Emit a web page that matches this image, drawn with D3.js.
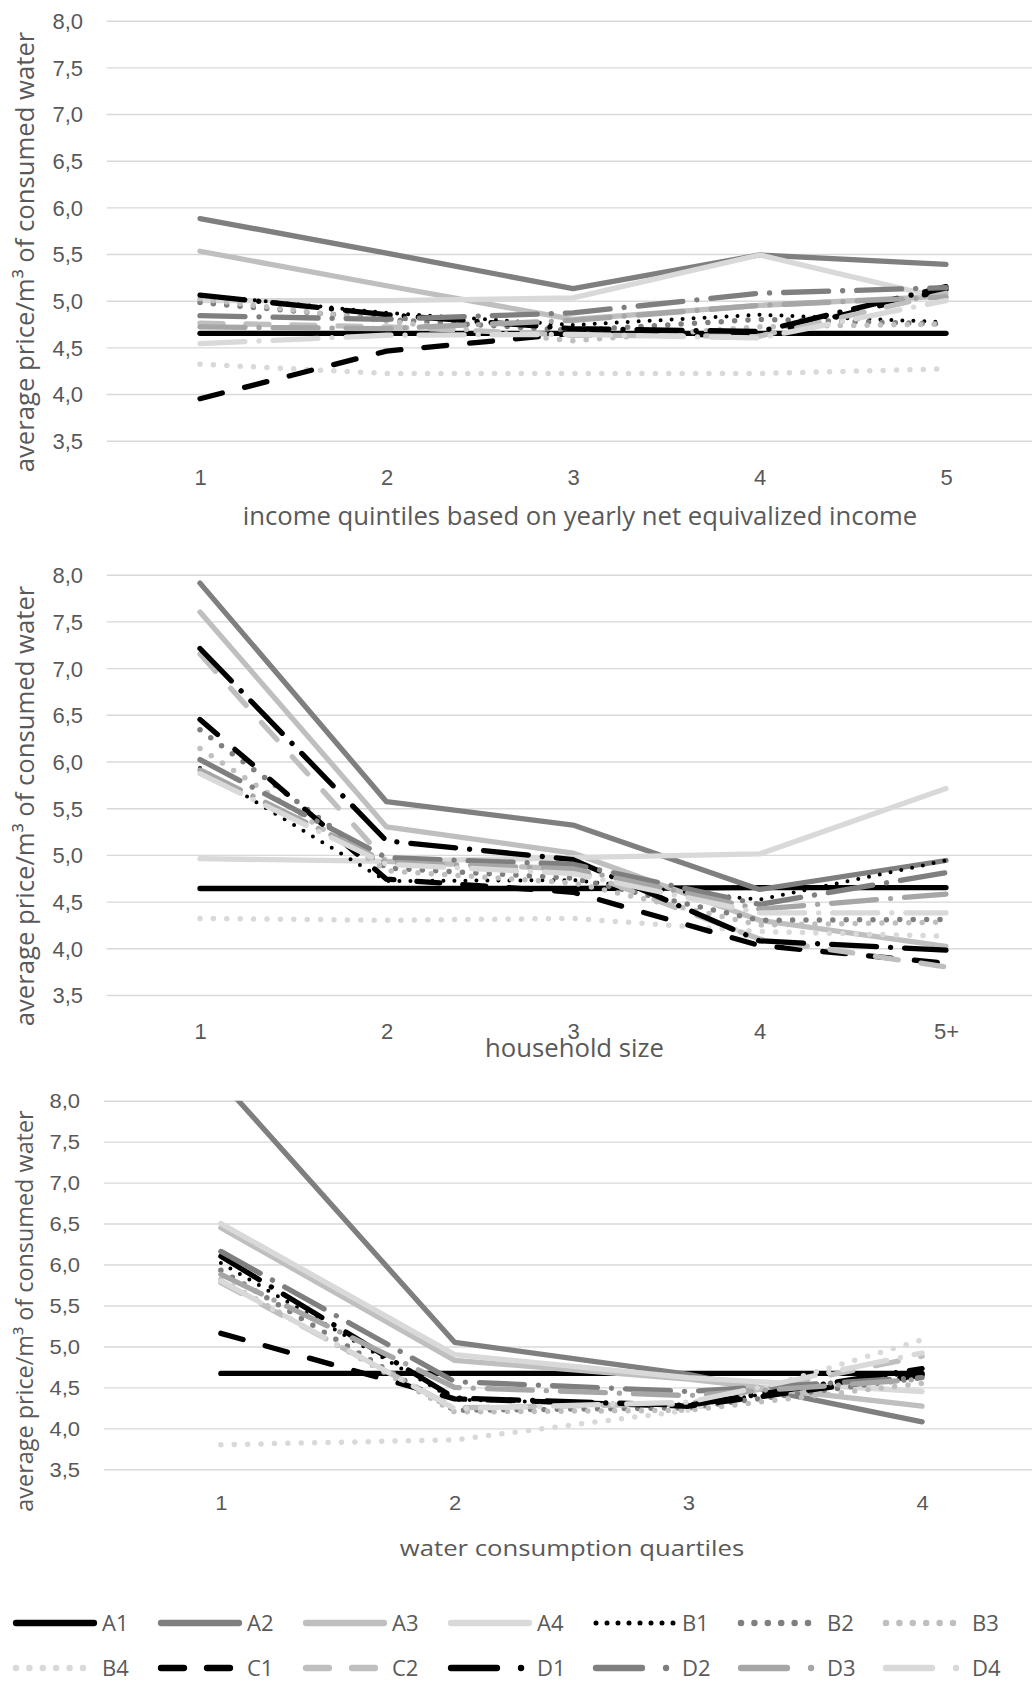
<!DOCTYPE html>
<html>
<head>
<meta charset="utf-8">
<script src="https://cdn.jsdelivr.net/npm/d3@7"></script>
<style>
  body { margin: 0; background: #ffffff; }
  svg { display: block; font-family: "Open Sans", "Noto Sans", sans-serif; }
</style>
</head>
<body>
<svg id="chart" width="1032" height="1683"></svg>
<script>
// Tariff scenarios, drawn in this order (later series on top)
const seriesNames = ["A1","A2","A3","A4","B1","B2","B3","B4","C1","C2","D1","D2","D3","D4"];

// Category labels of the three breakdowns
const incomeQuintiles = ["1","2","3","4","5"];
const householdSizes = ["1","2","3","4","5+"];
const consumptionQuartiles = ["1","2","3","4"];

// Shared price axis
const priceTicks = [3.5, 4.0, 4.5, 5.0, 5.5, 6.0, 6.5, 7.0, 7.5, 8.0];

// Average price per m³ by income quintile
const priceByIncome = {
  A1: [4.65, 4.65, 4.65, 4.65, 4.65],
  A2: [5.88, 5.51, 5.13, 5.49, 5.39],
  A3: [5.53, 5.16, 4.80, 4.95, 5.05],
  A4: [5.00, 5.00, 5.03, 5.49, 5.02],
  B1: [5.06, 4.87, 4.74, 4.85, 4.77],
  B2: [4.98, 4.80, 4.68, 4.80, 4.75],
  B3: [5.02, 4.78, 4.57, 4.72, 4.75],
  B4: [4.32, 4.22, 4.22, 4.22, 4.27],
  C1: [3.95, 4.46, 4.65, 4.63, 5.12],
  C2: [4.76, 4.72, 4.63, 4.62, 5.08],
  D1: [5.06, 4.85, 4.70, 4.67, 5.15],
  D2: [4.84, 4.80, 4.87, 5.08, 5.14],
  D3: [4.72, 4.70, 4.79, 4.95, 5.04],
  D4: [4.54, 4.63, 4.64, 4.60, 5.00]
};

// Average price per m³ by household size
const priceByHousehold = {
  A1: [4.64, 4.64, 4.64, 4.65, 4.65],
  A2: [7.91, 5.57, 5.32, 4.63, 4.94],
  A3: [7.60, 5.30, 5.02, 4.30, 4.02],
  A4: [4.96, 4.93, 4.97, 5.01, 5.71],
  B1: [5.93, 4.72, 4.73, 4.52, 4.94],
  B2: [6.34, 4.86, 4.75, 4.30, 4.31],
  B3: [6.14, 4.83, 4.70, 4.25, 4.28],
  B4: [4.32, 4.30, 4.32, 4.18, 4.13],
  C1: [6.45, 4.74, 4.60, 4.03, 3.84],
  C2: [7.15, 4.93, 4.85, 4.10, 3.80],
  D1: [7.21, 5.15, 4.95, 4.08, 3.98],
  D2: [6.02, 4.97, 4.90, 4.47, 4.81],
  D3: [5.91, 4.92, 4.85, 4.42, 4.58],
  D4: [5.87, 4.90, 4.80, 4.38, 4.38]
};

// Average price per m³ by water consumption quartile
const priceByConsumption = {
  A1: [4.67, 4.67, 4.67, 4.67],
  A2: [8.24, 5.05, 4.66, 4.08],
  A3: [6.45, 4.83, 4.60, 4.27],
  A4: [6.50, 4.90, 4.62, 4.45],
  B1: [6.02, 4.35, 4.28, 4.70],
  B2: [5.93, 4.22, 4.25, 4.62],
  B3: [5.82, 4.20, 4.22, 4.55],
  B4: [3.80, 3.86, 4.22, 5.08],
  C1: [5.16, 4.36, 4.27, 4.65],
  C2: [5.78, 4.25, 4.30, 4.88],
  D1: [6.10, 4.37, 4.28, 4.73],
  D2: [6.16, 4.57, 4.45, 4.62],
  D3: [5.88, 4.50, 4.40, 4.60],
  D4: [5.80, 4.24, 4.32, 4.92]
};

// ---- presentation ----
const BLACK = "#000000", DARK = "#7f7f7f", MID = "#a6a6a6", LIGHT = "#bfbfbf", PALE = "#d9d9d9";
const TEXT = "#595959", GRID = "#d9d9d9";
const FINE_DOT = "0 11", DOT = "0 13.4", DASH = "23 23", LONG_DASH_DOT = "45 14 0.1 14";
const LEGEND_LONG_DASH_DOT = "46 24 0.1 300";

const seriesStyle = {
  A1: { color: BLACK, width: 5.3, dash: null },
  A2: { color: DARK,  width: 5.3, dash: null },
  A3: { color: LIGHT, width: 5.3, dash: null },
  A4: { color: PALE,  width: 5.3, dash: null },
  B1: { color: BLACK, width: 4,   dash: FINE_DOT },
  B2: { color: DARK,  width: 5.5, dash: DOT },
  B3: { color: LIGHT, width: 5.5, dash: DOT },
  B4: { color: PALE,  width: 5.5, dash: DOT },
  C1: { color: BLACK, width: 5.3, dash: DASH },
  C2: { color: LIGHT, width: 5.3, dash: DASH },
  D1: { color: BLACK, width: 5.3, dash: LONG_DASH_DOT, legendDash: LEGEND_LONG_DASH_DOT },
  D2: { color: DARK,  width: 5.3, dash: LONG_DASH_DOT, legendDash: LEGEND_LONG_DASH_DOT },
  D3: { color: MID,   width: 5.3, dash: LONG_DASH_DOT, legendDash: LEGEND_LONG_DASH_DOT },
  D4: { color: PALE,  width: 5.3, dash: LONG_DASH_DOT, legendDash: LEGEND_LONG_DASH_DOT }
};

const yTitleText = "average price/m³ of consumed water";

const panels = [
  { id: "income", categories: incomeQuintiles, prices: priceByIncome,
    title: "income quintiles based on yearly net equivalized income",
    x0: 106.75, x1: 1039.25, yTop: 20.7, yBottom: 440.7,
    tickRight: 83, xTickY: 477, xTitleX: 580, xTitleY: 515.5,
    yTitleX: 34, yTitleY: 252, yTitleSize: 25.7, squash: 1 },
  { id: "household", categories: householdSizes, prices: priceByHousehold,
    title: "household size",
    x0: 106.75, x1: 1039.25, yTop: 574.7, yBottom: 995,
    tickRight: 83, xTickY: 1031, xTitleX: 574.5, xTitleY: 1048,
    yTitleX: 34, yTitleY: 806, yTitleSize: 25.7, squash: 1 },
  { id: "consumption", categories: consumptionQuartiles, prices: priceByConsumption,
    title: "water consumption quartiles",
    x0: 104, x1: 1039, yTop: 1100.7, yBottom: 1469.3,
    tickRight: 80, xTickY: 1503.5, xTitleX: 572, xTitleY: 1547.5,
    yTitleX: 33, yTitleY: 1311, yTitleSize: 23.4, squash: 0.88 }
];

const svg = d3.select("#chart");
const commaFormat = d3.formatLocale({ decimal: ",", thousands: ".", grouping: [3], currency: ["", " €"] }).format(".1f");

panels.forEach(p => {
  const x = d3.scalePoint().domain(p.categories).range([p.x0, p.x1]).padding(0.5);
  const y = d3.scaleLinear().domain([3.5, 8]).range([p.yBottom, p.yTop]);

  const g = svg.append("g").attr("class", "panel " + p.id);

  // horizontal gridlines and price labels
  const yAxis = d3.axisLeft(y)
    .tickValues(priceTicks)
    .tickFormat(commaFormat)
    .tickSizeInner(-(p.x1 - p.x0))
    .tickSizeOuter(0)
    .tickPadding(p.x0 - p.tickRight);
  const yg = g.append("g").attr("transform", `translate(${p.x0},0)`).call(yAxis);
  yg.select(".domain").remove();
  yg.selectAll(".tick line").attr("stroke", GRID).attr("stroke-width", 1.4);
  yg.selectAll(".tick text")
    .attr("fill", TEXT)
    .attr("font-size", 22)
    .attr("font-family", null)
    .attr("x", null)
    .attr("transform", `translate(${-(p.x0 - p.tickRight)},0) scale(1,${p.squash})`)
    .attr("dy", "0.36em");

  // category labels
  const xAxis = d3.axisBottom(x).tickSize(0).tickPadding(0);
  const xg = g.append("g").attr("transform", `translate(0,${p.yBottom})`).call(xAxis);
  xg.select(".domain").remove();
  xg.selectAll(".tick text")
    .attr("fill", TEXT)
    .attr("font-size", 22)
    .attr("font-family", null)
    .attr("y", null)
    .attr("transform", `translate(0,${p.xTickY - p.yBottom}) scale(1,${p.squash})`)
    .attr("dy", "0.36em");

  // axis titles
  g.append("text")
    .attr("transform", `translate(${p.xTitleX},${p.xTitleY}) scale(1,${p.squash})`)
    .attr("dy", "0.36em")
    .attr("text-anchor", "middle")
    .attr("fill", TEXT)
    .attr("font-size", 25.7)
    .text(p.title);

  g.append("text")
    .attr("transform", `translate(${p.yTitleX},${p.yTitleY}) rotate(-90)`)
    .attr("text-anchor", "middle")
    .attr("fill", TEXT)
    .attr("font-size", p.yTitleSize)
    .text(yTitleText);

  // plot area clip
  const clipId = "clip-" + p.id;
  svg.append("clipPath").attr("id", clipId)
    .append("rect")
    .attr("x", p.x0).attr("y", p.yTop)
    .attr("width", p.x1 - p.x0).attr("height", p.yBottom - p.yTop);

  const line = d3.line()
    .x((v, i) => x(p.categories[i]))
    .y(v => y(v));

  g.append("g").attr("clip-path", `url(#${clipId})`)
    .selectAll("path")
    .data(seriesNames)
    .join("path")
    .attr("d", name => line(p.prices[name]))
    .attr("fill", "none")
    .attr("stroke", name => seriesStyle[name].color)
    .attr("stroke-width", name => seriesStyle[name].width)
    .attr("stroke-dasharray", name => seriesStyle[name].dash)
    .attr("stroke-linecap", "round")
    .attr("stroke-linejoin", "round");
});

// legend, two rows of seven
const legend = svg.append("g").attr("class", "legend");
const legendRows = [seriesNames.slice(0, 7), seriesNames.slice(7)];
legendRows.forEach((row, r) => {
  const item = legend.selectAll(null)
    .data(row)
    .join("g")
    .attr("transform", (d, i) => `translate(${16 + i * 145},${1623 + r * 45})`);
  item.append("line")
    .attr("x1", 0).attr("x2", 78)
    .attr("stroke", d => seriesStyle[d].color)
    .attr("stroke-width", d => seriesStyle[d].width + 1)
    .attr("stroke-dasharray", d => seriesStyle[d].legendDash || seriesStyle[d].dash)
    .attr("stroke-linecap", "round");
  item.append("text")
    .attr("x", 86)
    .attr("dy", "0.36em")
    .attr("fill", TEXT)
    .attr("font-size", 22)
    .text(d => d);
});
</script>
</body>
</html>
